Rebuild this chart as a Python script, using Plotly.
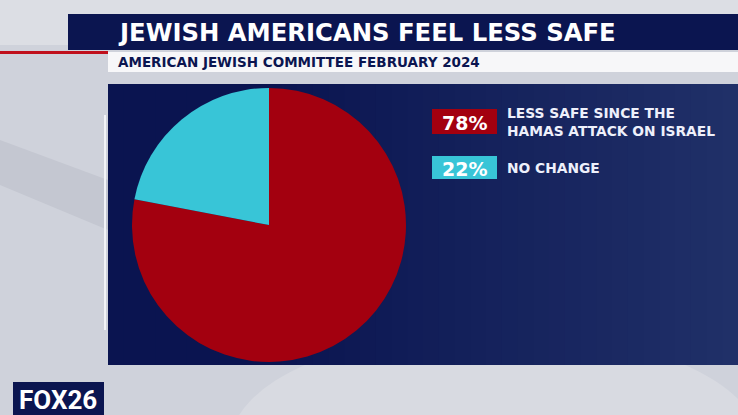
import plotly.graph_objects as go

# Data
categories = ["LESS SAFE SINCE THE<br>HAMAS ATTACK ON ISRAEL", "NO CHANGE"]
values = [78, 22]
colors = ["#a3000f", "#38c5d7"]
title_text = "JEWISH AMERICANS FEEL LESS SAFE"
subtitle_text = "AMERICAN JEWISH COMMITTEE FEBRUARY 2024"
logo_text = "FOX26"

W, H = 738, 415
NAVY = "#0b1550"

def px(x):
    return x / W

def py(y):
    return 1 - y / H

fig = go.Figure()

cx, cy, r = 269, 225, 137
fig.add_trace(go.Pie(
    values=values,
    labels=["78", "22"],
    marker=dict(colors=colors, line=dict(width=0)),
    sort=False,
    direction="clockwise",
    rotation=0,
    textinfo="none",
    hoverinfo="skip",
    showlegend=False,
    domain=dict(x=[px(cx - r), px(cx + r)], y=[py(cy + r), py(cy - r)]),
))

shapes = []
annotations = []

def rect(x0, y0, x1, y1, color, layer="below"):
    shapes.append(dict(type="rect", xref="paper", yref="paper",
                       x0=px(x0), x1=px(x1), y0=py(y1), y1=py(y0),
                       fillcolor=color, line=dict(width=0), layer=layer))

# background (blurred studio look)
rect(0, 0, W, H, "#cfd2db")
rect(0, 0, W, 45, "#dcdee4")
shapes.append(dict(type="path", xref="paper", yref="paper", layer="below",
                   path="M 0 %f L %f %f L %f %f L 0 %f Z" % (py(140), px(108), py(180), px(108), py(230), py(185)),
                   fillcolor="#c4c7d1", line=dict(width=0)))
shapes.append(dict(type="circle", xref="paper", yref="paper",
                   x0=px(230), x1=px(760), y0=py(560), y1=py(330),
                   fillcolor="#d8dae1", line=dict(width=0), layer="below"))
# title bar
rect(68, 14, W, 50, NAVY)
# red line
rect(0, 51, 108, 54, "#c0101c")
# subtitle bar
rect(108, 52, W, 72, "#f7f7f9")
# main panel with a gentle left-to-right gradient (overlapping strips, no seams)
n = 40
c0 = (10, 20, 80)
c1 = (32, 48, 104)
x0, x1 = 108, W
for i in range(n):
    t = i / (n - 1)
    tt = max(0.0, (t - 0.25) / 0.75)
    c = tuple(int(round(a + (b - a) * tt)) for a, b in zip(c0, c1))
    xa = x0 + (x1 - x0) * i / n
    rect(xa, 84, W, 365, "rgb(%d,%d,%d)" % c)
# thin white edge left of panel
rect(104, 115, 106, 330, "#f2f3f7")
# logo box
rect(13, 382, 104, 415, NAVY)

annotations.append(dict(text="<b>" + title_text + "</b>", x=px(116), y=py(32),
                        xref="paper", yref="paper", xanchor="left", yanchor="middle",
                        showarrow=False, font=dict(family="DejaVu Sans", size=24.3, color="white")))
annotations.append(dict(text="<b>" + subtitle_text + "</b>", x=px(116), y=py(62),
                        xref="paper", yref="paper", xanchor="left", yanchor="middle",
                        showarrow=False, font=dict(family="DejaVu Sans", size=13.5, color=NAVY)))
annotations.append(dict(text="<b>" + logo_text + "</b>", x=px(58), y=py(400),
                        xref="paper", yref="paper", xanchor="center", yanchor="middle",
                        showarrow=False, font=dict(family="Roboto", size=26, color="white")))

# legend
leg_rows = [(109, 134), (156, 179)]
for (y0, y1), val, lab, col in zip(leg_rows, values, categories, colors):
    shapes.append(dict(type="rect", xref="paper", yref="paper",
                       x0=px(432), x1=px(497), y0=py(y1), y1=py(y0),
                       fillcolor=col, line=dict(width=0)))
    annotations.append(dict(text="<b>%d%%</b>" % val, x=px(464.5), y=py((y0 + y1) / 2 + 1),
                            xref="paper", yref="paper", xanchor="center", yanchor="middle",
                            showarrow=False, font=dict(family="DejaVu Sans", size=19, color="white")))
    annotations.append(dict(text="<b>" + lab + "</b>", x=px(505), y=py((y0 + y1) / 2),
                            xref="paper", yref="paper", xanchor="left", yanchor="middle",
                            align="left", showarrow=False,
                            font=dict(family="DejaVu Sans", size=13.8, color="#eef0fb")))

fig.update_layout(
    width=W, height=H,
    margin=dict(l=0, r=0, t=0, b=0),
    paper_bgcolor="#cfd2db",
    plot_bgcolor="rgba(0,0,0,0)",
    shapes=shapes,
    annotations=annotations,
)

fig.write_html("out.html", config={"displayModeBar": False},
               post_script="document.body.style.margin='0';document.body.style.overflow='hidden';")
